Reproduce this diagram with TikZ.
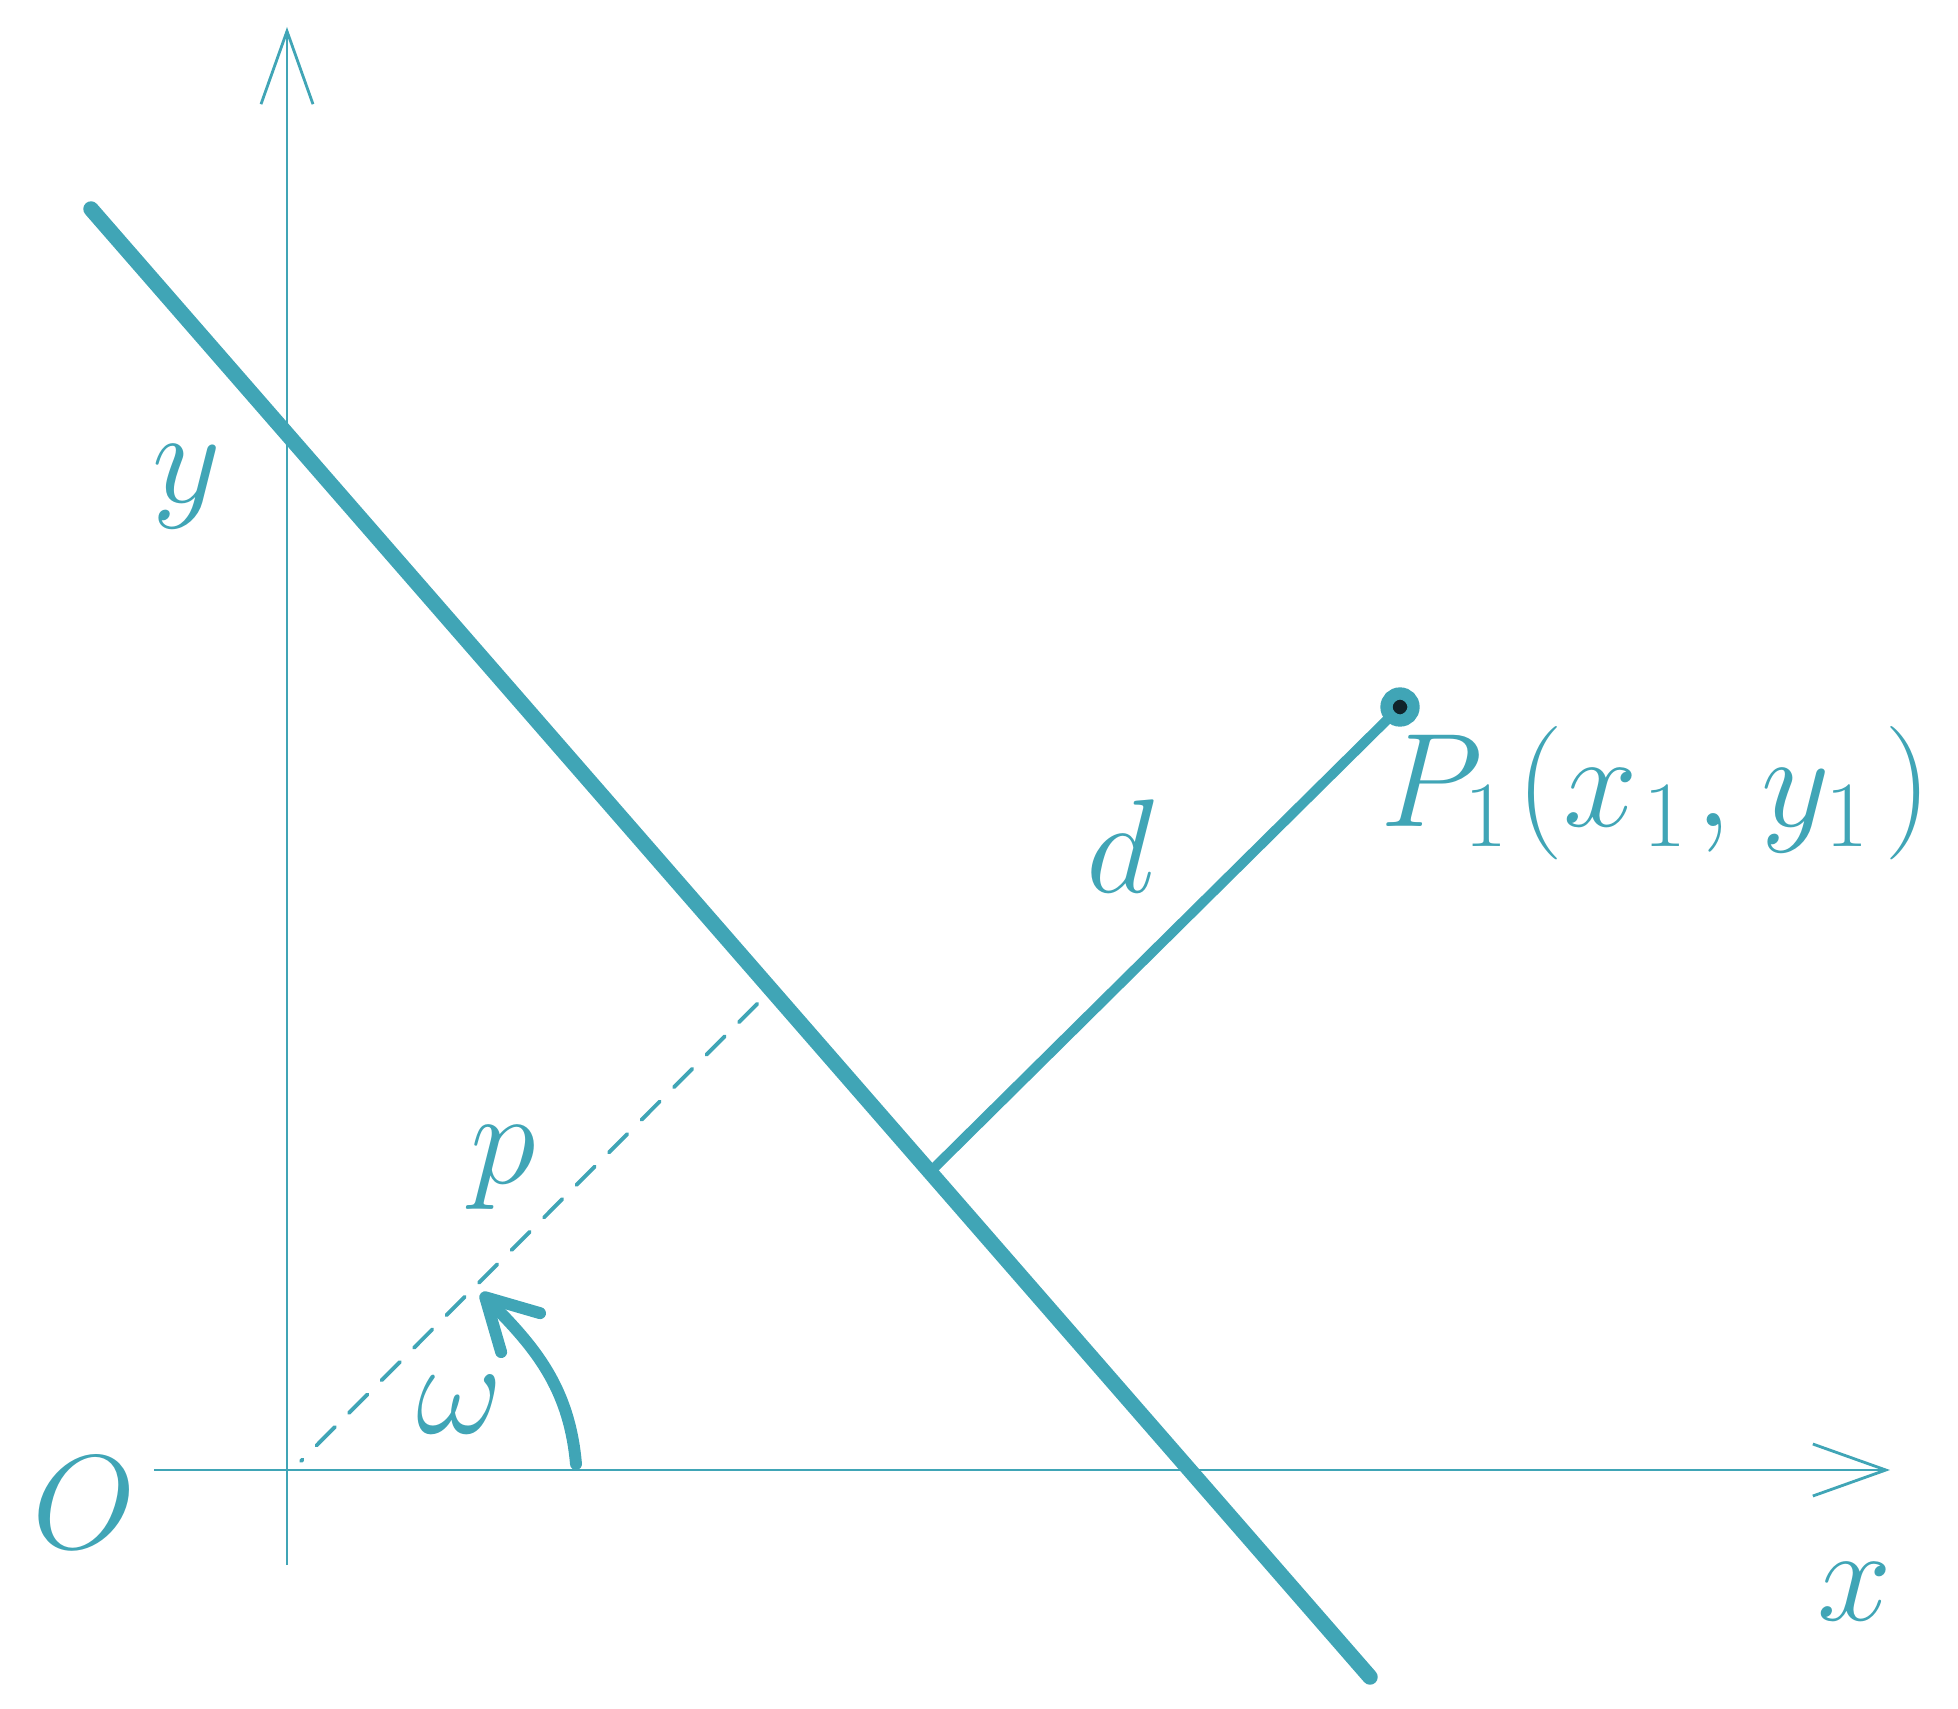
\RequirePackage{fix-cm}
\documentclass[tikz,border=0pt]{standalone}
\usepackage{tikz}
\usetikzlibrary{arrows.meta}
\definecolor{lineteal}{RGB}{64,165,182}
\definecolor{dotdark}{RGB}{16,35,42}
\tikzstyle{axis} = [draw=lineteal, line width=0.8pt,
-{Straight Barb[length=0.73cm, width=0.52cm, line width=0.8pt]}]
\tikzstyle{mainline} = [draw=lineteal, line width=4.4pt, line cap=round]
\tikzstyle{distline} = [draw=lineteal, line width=2.8pt, line cap=round]
\tikzstyle{normalline} = [draw=lineteal, line width=1.1pt, line cap=round,
dash pattern=on 0.26cm off 0.2cm, dash phase=0.24cm]
\tikzstyle{anglearrow} = [draw=lineteal, line width=3.4pt, line cap=round,
-{Straight Barb[length=0.5cm, width=0.55cm, line width=3.4pt, round]}]
\tikzstyle{lbl} = [text=lineteal, font=\fontsize{38}{45}\selectfont]

\begin{document}
\begin{tikzpicture}
    \useasboundingbox (-2.87,-2.38) rectangle (16.71,14.70);

    % coordinates
    \coordinate (O) at (0,0);
    \coordinate (xmin) at (-1.33,0);
    \coordinate (xmax) at (16.03,0);
    \coordinate (ymin) at (0,-0.95);
    \coordinate (ymax) at (0,14.43);
    \coordinate (l_start) at (-1.96,12.61);
    \coordinate (l_end) at (10.83,-2.07);
    \coordinate (foot) at (6.43,2.98);
    \coordinate (P1) at (11.13,7.63);
    \coordinate (n_start) at (0.14,0.09);
    \coordinate (n_end) at (4.75,4.71);
    \coordinate (w_start) at (2.89,0.06);
    \coordinate (w_end) at (1.94,1.77);

    % axes
    \draw [axis] (xmin) -- (xmax);
    \draw [axis] (ymin) -- (ymax);

    % lines
    \draw [mainline] (l_start) -- (l_end);
    \draw [normalline] (n_start) -- (n_end);
    \draw [distline] (foot) -- (P1);
    \draw [anglearrow] (w_start) to[out=95, in=-45] (w_end);

    % point
    \filldraw [draw=lineteal, fill=dotdark, line width=3.5pt] (P1) circle (0.135);

    % labels
    \node (lab_O) [lbl] at (-2.03,-0.33) {$O$};
    \node (lab_x) [lbl] at (15.68,-1.22) {$x$};
    \node (lab_y) [lbl] at (-1.00,9.83) {$y$};
    \node (lab_p) [lbl] at (2.16,3.02) {$p$};
    \node (lab_w) [lbl] at (1.73,0.65) {$\omega$};
    \node (lab_d) [lbl] at (8.33,6.24) {$d$};
    \node (lab_P1) [lbl] at (13.69,6.77)
        {$P_1\mkern1mu(x_{\mkern1mu 1}\mkern1mu,\mkern1mu y_1\mkern2mu)$};

\end{tikzpicture}
\end{document}
